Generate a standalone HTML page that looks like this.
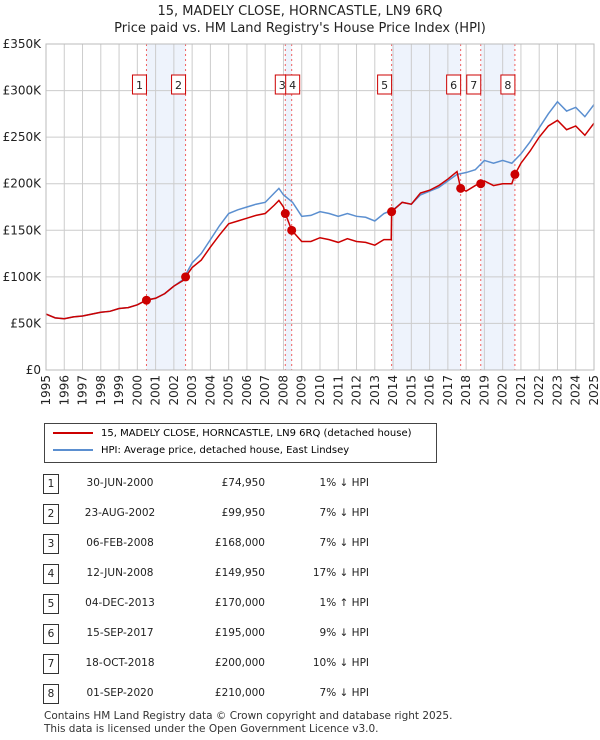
<!DOCTYPE html>
<html><head><meta charset="utf-8">
<style>
body{margin:0;background:#fff;font-family:"DejaVu Sans","Liberation Sans",sans-serif;}
#wrap{position:relative;width:600px;height:740px;overflow:hidden;}
.t{position:absolute;font-size:12px;color:#222;white-space:nowrap;}
</style></head><body>
<div id="wrap">
<div class="t" style="left:0;width:600px;text-align:center;top:3px;font-size:13px;line-height:17px;">15, MADELY CLOSE, HORNCASTLE, LN9 6RQ<br>Price paid vs. HM Land Registry's House Price Index (HPI)</div>
<svg id="chart" width="600" height="420" style="position:absolute;left:0;top:0;font-family:'DejaVu Sans',sans-serif;font-size:12px;"></svg>
<div style="position:absolute;left:44px;top:423px;width:391px;height:38px;border:1px solid #444;">
 <div style="position:absolute;left:8px;top:4px;font-size:10px;white-space:nowrap;"><span style="display:inline-block;width:40px;height:2px;background:#cc0000;vertical-align:middle;margin-right:8px"></span>15, MADELY CLOSE, HORNCASTLE, LN9 6RQ (detached house)</div>
 <div style="position:absolute;left:8px;top:21px;font-size:10px;white-space:nowrap;"><span style="display:inline-block;width:40px;height:2px;background:#5b8fd0;vertical-align:middle;margin-right:8px"></span>HPI: Average price, detached house, East Lindsey</div>
</div>
<div id="table"></div>
<div class="t" style="left:44px;top:710px;font-size:10.5px;line-height:13px;color:#333;">Contains HM Land Registry data © Crown copyright and database right 2025.<br>This data is licensed under the Open Government Licence v3.0.</div>
</div>
<script>
const hpiYears=[1995,1995.5,1996,1996.5,1997,1997.5,1998,1998.5,1999,1999.5,2000,2000.5,2001,2001.5,2002,2002.5,2003,2003.5,2004,2004.5,2005,2005.5,2006,2006.5,2007,2007.5,2007.75,2008,2008.5,2009,2009.5,2010,2010.5,2011,2011.5,2012,2012.5,2013,2013.5,2014,2014.5,2015,2015.5,2016,2016.5,2017,2017.5,2018,2018.5,2019,2019.5,2020,2020.5,2021,2021.5,2022,2022.5,2023,2023.5,2024,2024.5,2025];
const hpiValues=[60,56,55,57,58,60,62,63,66,67,70,75,77,82,90,97,115,125,140,155,168,172,175,178,180,190,195,188,180,165,166,170,168,165,168,165,164,160,168,172,180,178,188,192,196,203,210,212,215,225,222,225,222,232,245,260,275,288,278,282,272,285];
const priceYears=[1995,1995.5,1996,1996.5,1997,1997.5,1998,1998.5,1999,1999.5,2000,2000.5,2001,2001.5,2002,2002.5,2003,2003.5,2004,2004.5,2005,2005.5,2006,2006.5,2007,2007.5,2007.75,2008,2008.1,2008.45,2009,2009.5,2010,2010.5,2011,2011.5,2012,2012.5,2013,2013.5,2013.9,2013.92,2014.5,2015,2015.5,2016,2016.5,2017,2017.5,2017.7,2018,2018.5,2019,2019.5,2020,2020.5,2020.67,2021,2021.5,2022,2022.5,2023,2023.5,2024,2024.5,2025];
const priceValues=[60,56,55,57,58,60,62,63,66,67,70,75,77,82,90,96,110,118,132,145,157,160,163,166,168,177,182,175,168,150,138,138,142,140,137,141,138,137,134,140,140,170,180,178,190,193,198,205,213,195,192,198,203,198,200,200,210,222,235,250,262,268,258,262,252,265];
const saleIds=["1","2","3","4","5","6","7","8"];
const saleYears=[2000.5,2002.64,2008.1,2008.45,2013.92,2017.7,2018.8,2020.67];
const salePrices=[74950,99950,168000,149950,170000,195000,200000,210000];
const saleDates=["30-JUN-2000","23-AUG-2002","06-FEB-2008","12-JUN-2008","04-DEC-2013","15-SEP-2017","18-OCT-2018","01-SEP-2020"];
const salePct=["1% ↓ HPI","7% ↓ HPI","7% ↓ HPI","17% ↓ HPI","1% ↑ HPI","9% ↓ HPI","10% ↓ HPI","7% ↓ HPI"];
const yTicks=[0,50,100,150,200,250,300,350];
const yTickLabels=["£0","£50K","£100K","£150K","£200K","£250K","£300K","£350K"];
const shadePairs=[[0,1],[2,3],[4,5],[6,7]];

const L=46,R=594,T=44,B=370;
const X=y=>L+(y-1995)/30*(R-L);
const Y=v=>B-v/350*(B-T);
const svg=document.getElementById('chart');
const NS='http://www.w3.org/2000/svg';
function mk(tag,attrs){const e=document.createElementNS(NS,tag);for(const k in attrs)e.setAttribute(k,attrs[k]);svg.appendChild(e);return e;}
let e;
e=mk('rect',{x:L,y:T,width:R-L,height:B-T,fill:'#fff'});


shadePairs.forEach(p=>{
 e=mk('rect',{x:X(saleYears[p[0]]),y:T,width:X(saleYears[p[1]])-X(saleYears[p[0]]),height:B-T,fill:'#eef3fc'});
 
 
});
for(let yr=1995;yr<=2025;yr++){
 e=mk('line',{x1:X(yr),x2:X(yr),y1:T,y2:B,stroke:'#ccc','stroke-width':1});
 
 
 e=mk('text',{x:0,y:0,transform:`translate(${X(yr)+4},375) rotate(-90)`,'text-anchor':'end',fill:'#222'});
 e.textContent=yr;
 
 
}
yTicks.forEach((v,i)=>{
 e=mk('line',{x1:L,x2:R,y1:Y(v),y2:Y(v),stroke:'#ccc','stroke-width':1});
 
 
 e=mk('text',{x:L-5,y:Y(v)+4,'text-anchor':'end',fill:'#222'});
 e.textContent=yTickLabels[i];
 
 
});
saleYears.forEach((yr,i)=>{
 e=mk('line',{x1:X(yr),x2:X(yr),y1:T,y2:B,stroke:'#f06060','stroke-width':1,'stroke-dasharray':'2,3'});
 
 
});
e=mk('polyline',{points:hpiYears.map((y,i)=>X(y)+','+Y(hpiValues[i])).join(' '),fill:'none',stroke:'#5b8fd0','stroke-width':1.5});


e=mk('polyline',{points:priceYears.map((y,i)=>X(y)+','+Y(priceValues[i])).join(' '),fill:'none',stroke:'#cc0000','stroke-width':1.5});


saleYears.forEach((yr,i)=>{
 e=mk('circle',{cx:X(yr),cy:Y(salePrices[i]/1000),r:4.5,fill:'#cc0000'});
 
 
 e=mk('rect',{x:(i===2?X(yr)-10:X(yr)-14),y:75,width:14,height:19,fill:'#fff',stroke:'#cc0000','stroke-width':1});
 if(i===3)e.setAttribute('x',X(yr)-6);
 
 
 e=mk('text',{x:(i===2?X(yr)-3:(i===3?X(yr)+1:X(yr)-7)),y:89,'text-anchor':'middle',fill:'#222','font-size':11});
 e.textContent=saleIds[i];
 
 
});
e=mk('rect',{x:L,y:T,width:R-L,height:B-T,fill:'none',stroke:'#bbb'});



const tb=document.getElementById('table');
saleIds.forEach((id,i)=>{
 const top=474+i*30;
 const row=document.createElement('div');
 
 
 row.style.cssText=`position:absolute;left:0;top:${top}px;width:600px;height:20px;font-size:10.5px;color:#222;`;
 row.innerHTML=`<div style="position:absolute;left:43px;top:0;width:14px;height:18px;border:1px solid #333;text-align:center;line-height:18px">${id}</div>`+
 `<div style="position:absolute;left:70px;width:100px;text-align:center;top:3px">${saleDates[i]}</div>`+
 `<div style="position:absolute;left:180px;width:85px;text-align:right;top:3px">£${salePrices[i].toLocaleString('en-GB')}</div>`+
 `<div style="position:absolute;left:280px;width:89px;text-align:right;top:3px">${salePct[i]}</div>`;
 tb.appendChild(row);
});
</script>
</body></html>
